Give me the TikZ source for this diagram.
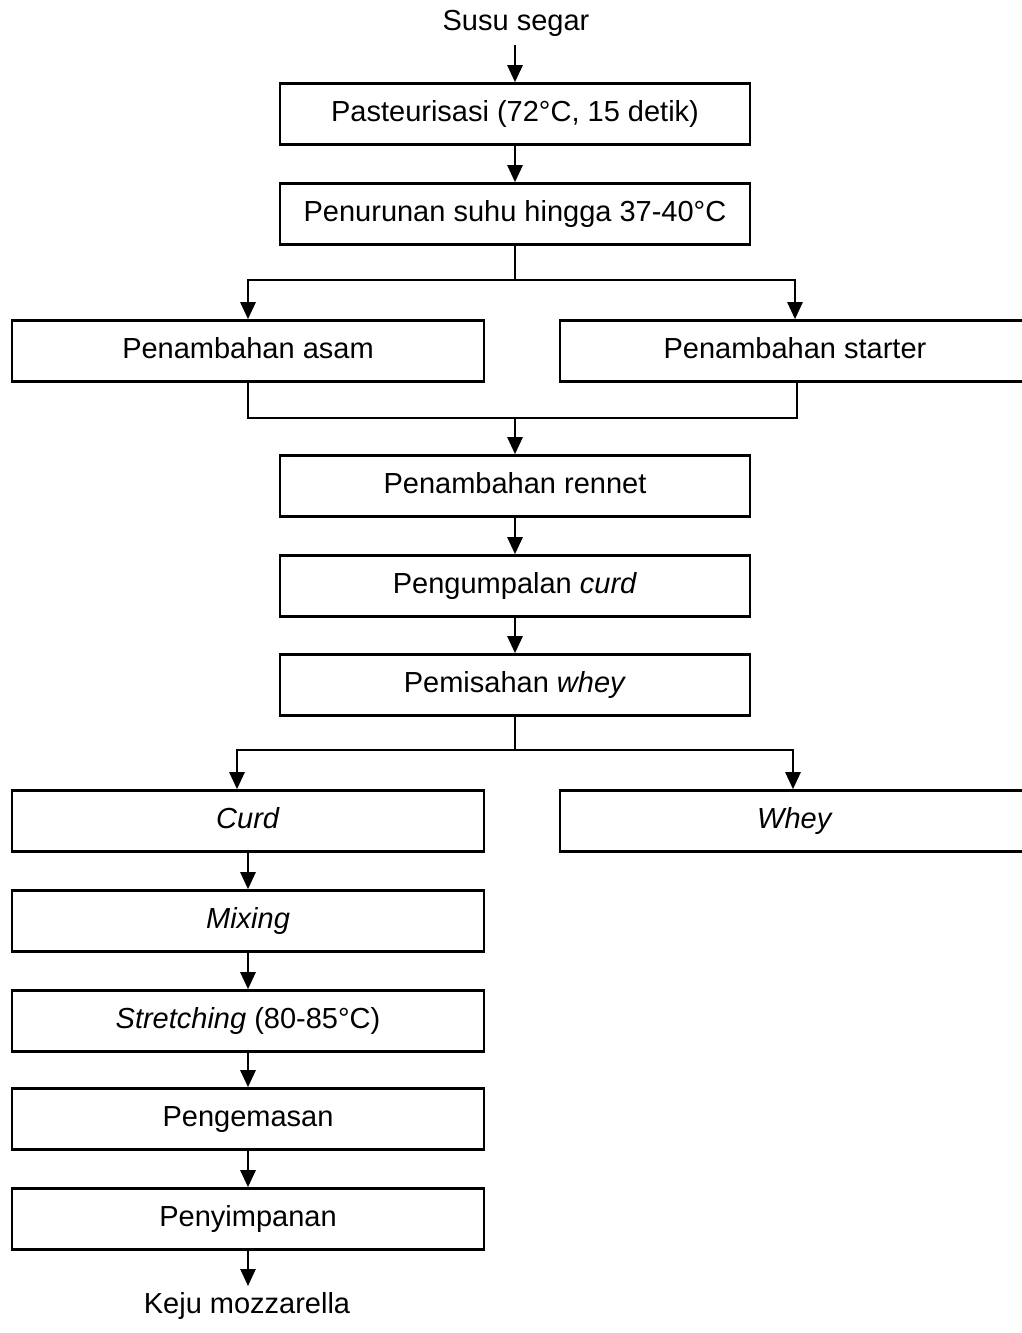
\documentclass[tikz,border=0pt]{standalone}
\usepackage{fontspec}
\setmainfont{Liberation Sans}
\usetikzlibrary{arrows.meta}
\begin{document}
\begin{tikzpicture}[x=1pt,y=-1pt,
  box/.style={draw,line width=2.6pt,minimum width=470pt,minimum height=61pt,inner sep=0pt,text height=21pt,text depth=6pt,font=\fontsize{29}{34}\selectfont},
  lbl/.style={inner sep=0pt,text height=21pt,text depth=6pt,font=\fontsize{29}{34}\selectfont},
  conn/.style={line width=2.6pt},
  arr/.style={line width=2.6pt,-{Triangle[length=17pt,width=15pt]}}]
\useasboundingbox (0,0) rectangle (1022,1333);
\node[lbl] (src) at (516,23) {Susu segar};
\node[box] (past) at (515,114) {Pasteurisasi (72°C, 15 detik)};
\node[box] (turun) at (515,214) {Penurunan suhu hingga 37-40°C};
\node[box,minimum width=472pt] (asam) at (248,351) {Penambahan asam};
\node[box] (starter) at (795,351) {Penambahan starter};
\node[box] (rennet) at (515,486) {Penambahan rennet};
\node[box] (kumpul) at (515,586) {Pengumpalan \textit{curd}};
\node[box] (pisah) at (515,685) {Pemisahan \textit{whey}};
\node[box,minimum width=472pt] (curd) at (248,821) {\textit{Curd}};
\node[box] (whey) at (795,821) {\textit{Whey}};
\node[box,minimum width=472pt] (mix) at (248,921) {\textit{Mixing}};
\node[box,minimum width=472pt] (stretch) at (248,1021) {\textit{Stretching} (80-85°C)};
\node[box,minimum width=472pt] (kemas) at (248,1119) {Pengemasan};
\node[box,minimum width=472pt] (simpan) at (248,1219) {Penyimpanan};
\node[lbl] (keju) at (247,1306) {Keju mozzarella};

\coordinate (srcend) at (515,45);
\draw[arr] (srcend) -- (past.north);
\draw[arr] (past.south) -- (turun.north);
\coordinate (split1) at (515,280);
\draw[conn] (turun.south) -- (split1);
\draw[arr] (split1) -| (asam.north);
\draw[arr] (split1) -| (starter.north);
\coordinate (m1) at (248,418);
\coordinate (m2) at (797,418);
\coordinate (m0) at (515,418);
\draw[conn] (asam.south) -- (m1) -- (m2) -- ([xshift=2pt]starter.south);
\draw[arr] (m0) -- (rennet.north);
\draw[arr] (rennet.south) -- (kumpul.north);
\draw[arr] (kumpul.south) -- (pisah.north);
\coordinate (split2) at (515,750);
\draw[conn] (pisah.south) -- (split2);
\draw[arr] (split2) -| ([xshift=-11pt]curd.north);
\draw[arr] (split2) -| ([xshift=-2pt]whey.north);
\draw[arr] (curd.south) -- (mix.north);
\draw[arr] (mix.south) -- (stretch.north);
\draw[arr] (stretch.south) -- (kemas.north);
\draw[arr] (kemas.south) -- (simpan.north);
\coordinate (kejutop) at (248,1286);
\draw[arr] (simpan.south) -- (kejutop);
\end{tikzpicture}
\end{document}
